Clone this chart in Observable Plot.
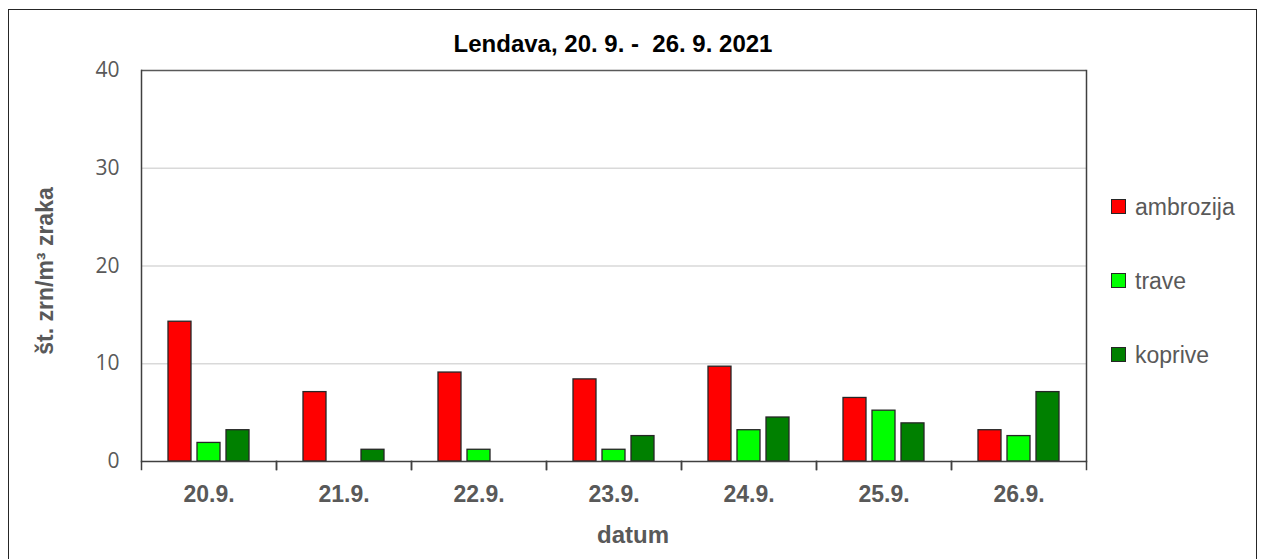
<!DOCTYPE html>
<html>
<head>
<meta charset="utf-8">
<script src="https://cdn.jsdelivr.net/npm/d3@7"></script>
<script src="https://cdn.jsdelivr.net/npm/@observablehq/plot@0.6"></script>
<style>
  html, body { margin: 0; padding: 0; background: #fff; }
  #wrap { position: relative; width: 1261px; height: 559px; overflow: hidden; font-family: "Liberation Sans", Arial, sans-serif; }
  #border { position: absolute; left: 8px; top: 9px; width: 1249px; height: 600px; border: 1.5px solid #262626; box-sizing: border-box; }
  #chart { position: absolute; left: 0; top: 0; }
  .title { position: absolute; left: 613px; top: 31.5px; transform: translateX(-50%); font-weight: bold; font-size: 24px; line-height: 24px; color: #000; white-space: pre; }
  .xlabel { position: absolute; left: 633px; top: 522.5px; transform: translateX(-50%); font-weight: bold; font-size: 24px; line-height: 24px; color: #595959; white-space: pre; }
  .ylabel { position: absolute; left: 45px; top: 271px; transform: translate(-50%, -50%) rotate(-90deg); font-weight: bold; font-size: 23px; line-height: 24px; color: #595959; white-space: nowrap; }
  .leg { position: absolute; left: 1111px; font-size: 23px; line-height: 23px; color: #595959; white-space: nowrap; }
  .leg .sw { position: absolute; left: 0; width: 15px; height: 15px; border: 1px solid #262626; box-sizing: border-box; }
  .leg .tx { position: absolute; left: 24px; }
  g[aria-label="y-axis tick label"] text { font-family: "Open Sans", sans-serif; font-size: 21px; fill: #595959; }
  g[aria-label="fx-axis tick label"] text { font-family: "Liberation Sans", Arial, sans-serif; font-size: 23px; font-weight: bold; fill: #595959; }
</style>
</head>
<body>
<div id="wrap">
  <div id="border"></div>
  <div id="chart"></div>
</div>
<script>
const dates = ["20.9.", "21.9.", "22.9.", "23.9.", "24.9.", "25.9.", "26.9."];
const series = ["ambrozija", "trave", "koprive"];
const ambrozija = [14.3, 7.1, 9.1, 8.4, 9.7, 6.5, 3.2];
const trave = [1.9, 0, 1.2, 1.2, 3.2, 5.2, 2.6];
const koprive = [3.2, 1.2, 0, 2.6, 4.5, 3.9, 7.1];
const colors = ["#ff0000", "#00ff00", "#008000"];
const yTicks = [0, 10, 20, 30, 40];
const gridTicks = [10, 20, 30];
const titleText = "Lendava, 20. 9. -  26. 9. 2021";
const yLabelText = "št. zrn/m³ zraka";
const xLabelText = "datum";

const valuesBySeries = [ambrozija, trave, koprive];
const table = [];
dates.forEach((d, i) => {
  series.forEach((s, j) => table.push({date: d, series: s, value: valuesBySeries[j][i]}));
});

const W = 1261, H = 559, MT = 70, MB = 98, ML = 139, MR = 174;
const innerH = H - MT - MB;

const plot = Plot.plot({
  width: W, height: H,
  marginTop: MT, marginBottom: MB, marginLeft: ML, marginRight: MR,
  style: {background: "transparent", overflow: "visible"},
  fx: {domain: dates, padding: 0, label: null},
  x: {domain: series, paddingInner: 0.2, paddingOuter: 0.857, axis: null},
  y: {domain: [0, 40], label: null},
  color: {domain: series, range: colors},
  marks: [
    Plot.gridY(gridTicks, {stroke: "#d9d9d9", strokeOpacity: 1, strokeWidth: 1.5}),
    Plot.barY(table, {
      fx: "date", x: "series", y: "value", fill: "series",
      stroke: "#262626", strokeWidth: 1.3,
      filter: d => d.value > 0
    }),
    Plot.ruleY([40], {stroke: "#595959", strokeWidth: 1.5}),
    Plot.ruleY([0], {stroke: "#404040", strokeWidth: 1.5}),
    Plot.frame({anchor: "left", insetTop: innerH, insetBottom: -8, stroke: "#404040", strokeWidth: 1.5}),
    Plot.frame({anchor: "right", insetTop: innerH, insetBottom: -8, stroke: "#404040", strokeWidth: 1.5}),
    Plot.frame({anchor: "left", facetAnchor: "left", stroke: "#404040", strokeWidth: 1.5}),
    Plot.frame({anchor: "right", facetAnchor: "right", stroke: "#404040", strokeWidth: 1.5}),
    Plot.axisY({ticks: yTicks, tickSize: 0, tickPadding: 22, label: null, color: "#595959"}),
    Plot.axisFx({anchor: "bottom", tickSize: 0, tickPadding: 24, label: null, color: "#595959"})
  ]
});
document.getElementById("chart").appendChild(plot);

const wrap = document.getElementById("wrap");
function addDiv(cls, text, styles) {
  const el = document.createElement("div");
  el.className = cls;
  if (text != null) el.textContent = text;
  Object.assign(el.style, styles || {});
  wrap.appendChild(el);
  return el;
}
addDiv("title", titleText);
addDiv("xlabel", xLabelText);
addDiv("ylabel", yLabelText);

const legendCenters = [207, 281, 355];
series.forEach((s, i) => {
  const item = addDiv("leg", null, {top: (legendCenters[i] - 8) + "px"});
  const sw = document.createElement("div");
  sw.className = "sw";
  sw.style.top = "0px";
  sw.style.background = colors[i];
  item.appendChild(sw);
  const tx = document.createElement("div");
  tx.className = "tx";
  tx.style.top = "-3px";
  tx.textContent = s;
  item.appendChild(tx);
});
</script>
</body>
</html>
